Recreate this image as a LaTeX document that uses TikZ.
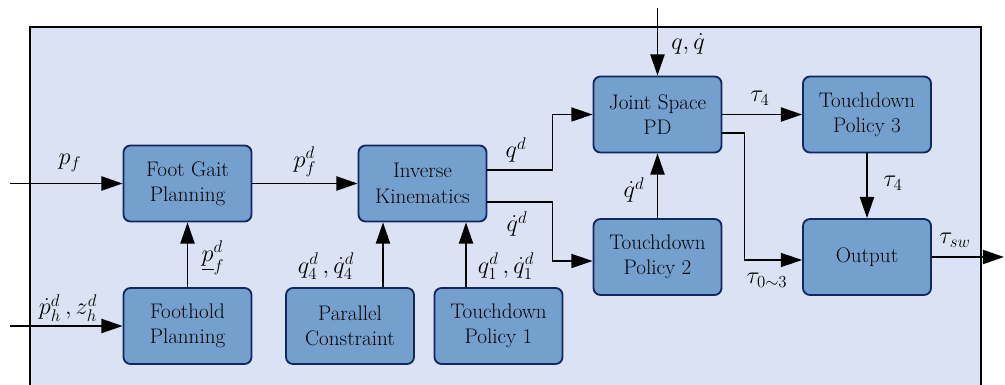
\documentclass[tikz,border=0pt]{standalone}
\usepackage{amsmath,amssymb}
\usetikzlibrary{arrows.meta,positioning,calc}
\definecolor{panelbg}{RGB}{219,226,244}
\definecolor{blockfill}{RGB}{116,160,206}
\definecolor{blockline}{RGB}{18,38,98}

\begin{document}
\begin{tikzpicture}[
    x=0.025cm,
    y=-0.025cm,
    panel/.style={
        draw=black,
        line width=1.1pt,
        fill=panelbg
        },
    block/.style={
        draw=blockline,
        line width=1.3pt,
        fill=blockfill,
        rounded corners=5pt,
        minimum width=3.2cm,
        minimum height=1.9cm,
        inner sep=0pt,
        align=center,
        font=\fontsize{15}{18}\selectfont
        },
    signal/.style={
        line width=1.3pt,
        -{Triangle[length=15pt,width=10pt]}
        },
    thinsignal/.style={
        signal,
        line width=0.8pt
        },
    lbl/.style={
        inner sep=1pt,
        font=\fontsize{17}{20}\selectfont
        },
  ]
  % Frame
  \clip (0,0) rectangle (1005,385);
  \draw[panel] (30,27) rectangle (981,430);
  % Blocks
  \node[block] (fgp) at (187.5,183.5) {Foot Gait\\Planning};
  \node[block] (fhp) at (187.5,326) {Foothold\\Planning};
  \node[block] (ik) at (422.5,183.5) {Inverse\\Kinematics};
  \node[block] (pc) at (350,326) {Parallel\\Constraint};
  \node[block] (tp1) at (498.5,326) {Touchdown\\Policy 1};
  \node[block] (jspd) at (657.5,114.5) {Joint Space\\PD};
  \node[block] (tp3) at (867,114.5) {Touchdown\\Policy 3};
  \node[block] (tp2) at (657.5,257) {Touchdown\\Policy 2};
  \node[block] (out) at (867,257) {Output};
  % Free ends
  \coordinate (pfin) at (10,183.5);
  \coordinate (phin) at (10,326);
  \coordinate (qin) at (657.5,8);
  \coordinate (tswout) at (1004,257);
  % Connectors
  \draw[signal] (pfin) -- (fgp.west);
  \draw[signal] (phin) -- (fhp.west);
  \draw[signal] (fhp) -- (fgp);
  \draw[signal] (fgp) -- (ik);
  \draw[signal] ($(pc.north)+(33,0)$) -- ($(ik.south)+(-39.5,0)$);
  \draw[signal] ($(tp1.north)+(-32.5,0)$) -- ($(ik.south)+(43.5,0)$);
  \draw[thinsignal] ($(ik.east)+(0,-13.5)$) -| ($(jspd.west)+(-40,0)$) -- (jspd.west);
  \draw[thinsignal] ($(ik.east)+(0,18.5)$) -| ($(tp2.west)+(-40,4)$) -- ($(tp2.west)+(0,4)$);
  \draw[signal] (qin) -- (jspd.north);
  \draw[signal] (tp2) -- (jspd);
  \draw[signal] (jspd.east) -- (tp3.west);
  \draw[thinsignal] ($(jspd.east)+(0,18.5)$) -| ($(out.west)+(-58,3)$) -- ($(out.west)+(0,3)$);
  \draw[signal] (tp3) -- (out);
  \draw[signal] (out.east) -- (tswout);
  % Labels
  \node[lbl] (lpf) at (70,163) {$p_f$};
  \node[lbl] (lph) at (68,308) {$\dot{p}_h^d\,,z_h^d$};
  \node[lbl] (lpu) at (213,258) {$\underline{p}_f^d$};
  \node[lbl] (lpfd) at (305,162) {$p_f^d$};
  \node[lbl] (lq4) at (326,266) {$q_4^d\,,\dot{q}_4^d$};
  \node[lbl] (lq1) at (506,266) {$q_1^d\,,\dot{q}_1^d$};
  \node[lbl] (lqd) at (516,150) {$q^d$};
  \node[lbl] (lqdd) at (517,224) {$\dot{q}^d$};
  \node[lbl] (lq) at (688,44) {$q,\dot{q}$};
  \node[lbl] (lqdd2) at (634,190) {$\dot{q}^d$};
  \node[lbl] (lt4a) at (760,98) {$\tau_4$};
  \node[lbl] (lt4b) at (893,183) {$\tau_4$};
  \node[lbl] (lt03) at (767,280) {$\tau_{0\sim3}$};
  \node[lbl] (ltsw) at (955,240) {$\tau_{sw}$};
\end{tikzpicture}
\end{document}
